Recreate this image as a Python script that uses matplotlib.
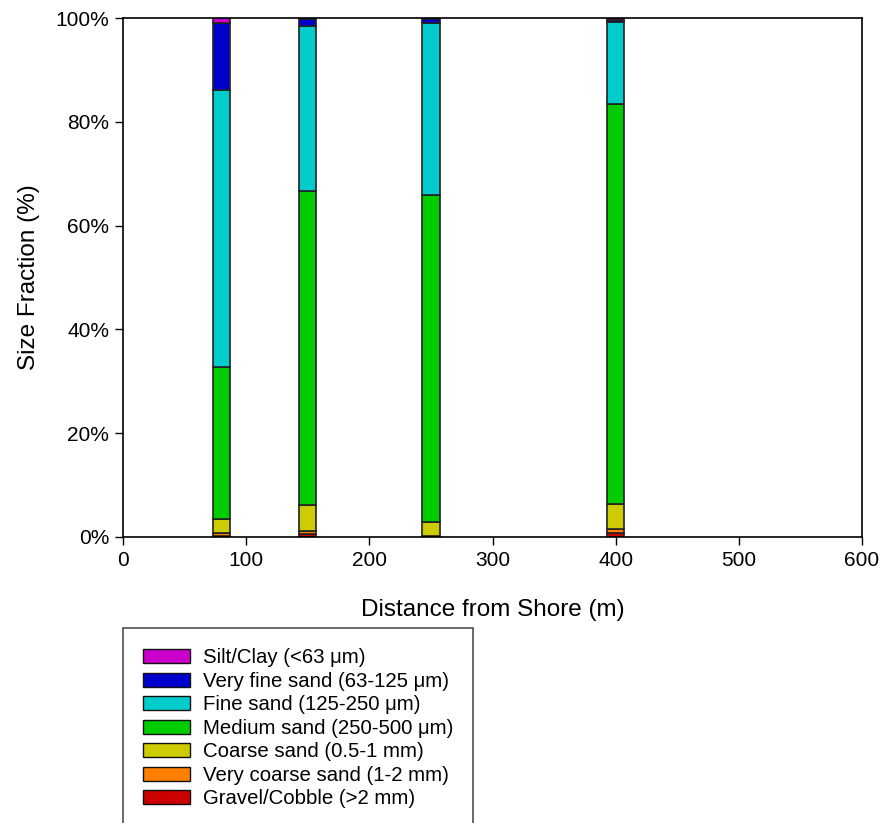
import matplotlib
matplotlib.use("Agg")
import matplotlib.pyplot as plt
from matplotlib.patches import Patch
import numpy as np

plt.rcParams['font.family'] = ['Liberation Sans', 'DejaVu Sans']

distance = [80, 150, 250, 400]
labels = ["Gravel/Cobble (>2 mm)", "Very coarse sand (1-2 mm)", "Coarse sand (0.5-1 mm)",
          "Medium sand (250-500 \u03bcm)", "Fine sand (125-250 \u03bcm)",
          "Very fine sand (63-125 \u03bcm)", "Silt/Clay (<63 \u03bcm)"]
colors = ["#cc0000", "#ff7f00", "#cccc00", "#00cc00", "#00cccc", "#0000cc", "#cc00cc"]

gravel = [0.2, 0.5, 0.0, 0.8]
very_coarse = [0.6, 0.6, 0.1, 0.7]
coarse = [2.6, 5.1, 2.7, 4.8]
medium = [29.4, 60.5, 63.1, 77.1]
fine = [53.3, 31.8, 33.1, 15.8]
very_fine = [12.9, 1.3, 0.8, 0.5]
silt = [1.0, 0.2, 0.2, 0.3]
series = [gravel, very_coarse, coarse, medium, fine, very_fine, silt]

fig = plt.figure(figsize=(8.8, 8.23), dpi=100)
ax = fig.add_axes([123/880, 1 - 537/823, (862-123)/880, (537-18)/823])

bottom = np.zeros(len(distance))
for vals, col, lab in zip(series, colors, labels):
    ax.bar(distance, vals, width=14, bottom=bottom, color=col, edgecolor='#222222',
           linewidth=1.2, label=lab)
    bottom += np.array(vals)

ax.set_xlim(0, 600)
ax.set_ylim(0, 100)
ax.set_xticks(range(0, 601, 100))
ax.set_yticks(range(0, 101, 20))
ax.set_yticklabels([f"{v}%" for v in range(0, 101, 20)])
ax.tick_params(direction='out', length=6, width=1, labelsize=15, pad=4)
for s in ax.spines.values():
    s.set_linewidth(1.2)
ax.set_xlabel("Distance from Shore (m)", fontsize=17.5, labelpad=21)
ax.set_ylabel("Size Fraction (%)", fontsize=17.5, labelpad=11)

handles = [Patch(facecolor=c, edgecolor='#111111', linewidth=1) for c in colors][::-1]
leg = fig.legend(handles, labels[::-1], loc='upper left',
                 bbox_to_anchor=(123/880, 1 - 628/823), fontsize=14.7,
                 frameon=True, fancybox=False, edgecolor='#222222',
                 handlelength=2.3, handleheight=0.7, handletextpad=0.6,
                 labelspacing=0.22, borderpad=1.0, borderaxespad=0)
leg.get_frame().set_linewidth(1.2)

fig.savefig("out.png", dpi=100)
